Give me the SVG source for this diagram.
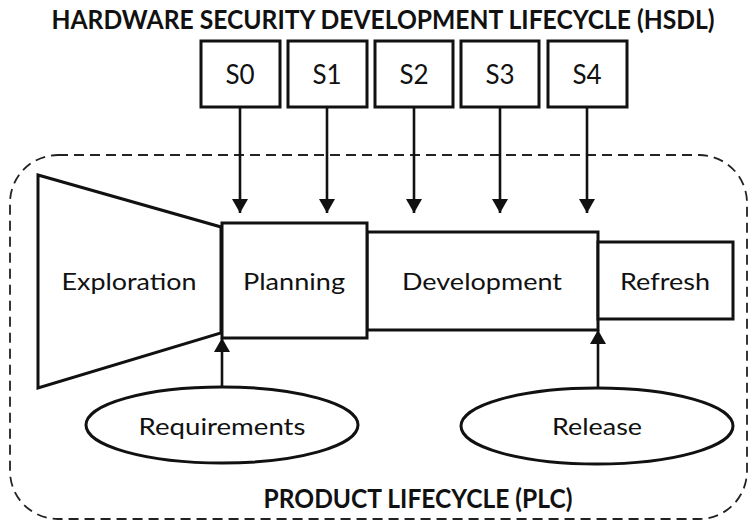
<svg xmlns="http://www.w3.org/2000/svg" width="755" height="526" viewBox="0 0 755 526">
  <style>
    .box { fill: #fff; stroke: #111; stroke-width: 3; }
    .frame { fill: none; stroke: #222; stroke-width: 1.8; stroke-dasharray: 10 6; }
    .conn { stroke: #111; stroke-width: 2.6; fill: none; marker-end: url(#head); }
    .lbl { font-family: Lato, "Open Sans", "Liberation Sans", sans-serif; font-size: 24px; fill: #111; text-anchor: middle; }
    .stage { font-family: Lato, "Open Sans", "Liberation Sans", sans-serif; font-size: 26px; fill: #111; text-anchor: middle; }
    .title { font-family: Lato, "Open Sans", "Liberation Sans", sans-serif; font-size: 27px; font-weight: bold; fill: #111; text-anchor: middle; }
    .heading { font-size: 26px; }
  </style>
  <defs>
    <marker id="head" viewBox="0 0 14 16" refX="14" refY="8" markerWidth="14" markerHeight="16" markerUnits="userSpaceOnUse" orient="auto">
      <path d="M0,0 L14,8 L0,16 Z" fill="#111"/>
    </marker>
  </defs>
  <rect width="755" height="526" fill="#fff"/>

  <!-- HSDL heading -->
  <text class="title heading" x="383" y="29" textLength="663" lengthAdjust="spacingAndGlyphs">HARDWARE SECURITY DEVELOPMENT LIFECYCLE (HSDL)</text>

  <!-- product lifecycle boundary -->
  <rect id="plc" class="frame" x="10" y="155" width="737" height="364" rx="48" ry="48"/>
  <text class="title" x="418" y="508" textLength="309" lengthAdjust="spacingAndGlyphs">PRODUCT LIFECYCLE (PLC)</text>

  <!-- security stages -->
  <g id="s0"><rect class="box" x="201" y="41" width="79" height="66"/><text class="stage" x="240" y="84">S0</text></g>
  <g id="s1"><rect class="box" x="288" y="41" width="79" height="66"/><text class="stage" x="327" y="84">S1</text></g>
  <g id="s2"><rect class="box" x="375" y="41" width="78" height="66"/><text class="stage" x="414" y="84">S2</text></g>
  <g id="s3"><rect class="box" x="461" y="41" width="78" height="66"/><text class="stage" x="500" y="84">S3</text></g>
  <g id="s4"><rect class="box" x="548" y="41" width="79" height="66"/><text class="stage" x="587" y="84">S4</text></g>

  <!-- product phases -->
  <g id="exploration">
    <polygon class="box" points="38,175 221,227 221,333 38,388"/>
    <text class="lbl" x="129" y="290" textLength="135" lengthAdjust="spacingAndGlyphs">Exploration</text>
  </g>
  <g id="development">
    <rect class="box" x="367" y="232" width="231" height="98"/>
    <text class="lbl" x="482" y="290" textLength="160" lengthAdjust="spacingAndGlyphs">Development</text>
  </g>
  <g id="planning">
    <rect class="box" x="222" y="223" width="145" height="115"/>
    <text class="lbl" x="294" y="290" textLength="102" lengthAdjust="spacingAndGlyphs">Planning</text>
  </g>
  <g id="refresh">
    <rect class="box" x="598" y="242" width="135" height="77"/>
    <text class="lbl" x="665" y="290" textLength="90" lengthAdjust="spacingAndGlyphs">Refresh</text>
  </g>
  <g id="requirements">
    <ellipse class="box" cx="222" cy="425" rx="136" ry="38"/>
    <text class="lbl" x="222" y="435" textLength="167" lengthAdjust="spacingAndGlyphs">Requirements</text>
  </g>
  <g id="release">
    <ellipse class="box" cx="597" cy="426" rx="136" ry="38"/>
    <text class="lbl" x="597" y="435" textLength="90" lengthAdjust="spacingAndGlyphs">Release</text>
  </g>

  <!-- connectors -->
  <g id="connectors">
    <line class="conn" x1="240" y1="107" x2="240" y2="213"/>
    <line class="conn" x1="327" y1="107" x2="327" y2="213"/>
    <line class="conn" x1="414" y1="107" x2="414" y2="213"/>
    <line class="conn" x1="500" y1="107" x2="500" y2="213"/>
    <line class="conn" x1="587" y1="107" x2="587" y2="213"/>
    <line class="conn" x1="222" y1="387" x2="222" y2="338"/>
    <line class="conn" x1="598" y1="388" x2="598" y2="330"/>
  </g>
</svg>
